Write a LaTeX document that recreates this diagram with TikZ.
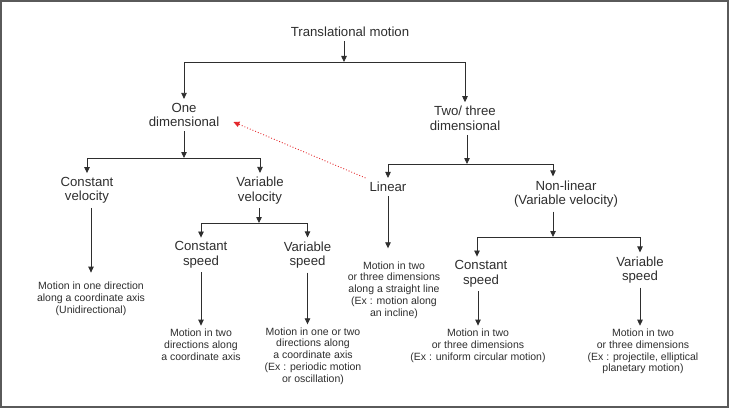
\documentclass[tikz,border=0pt]{standalone}
\usepackage{fontspec}
\setmainfont{Liberation Sans}
\usetikzlibrary{arrows.meta}

\definecolor{ink}{HTML}{2E2E2E}
\definecolor{framegray}{HTML}{5A5A5A}
\definecolor{hintred}{HTML}{E3262A}

\begin{document}
\begin{tikzpicture}[x=1pt,y=-1pt,
    lbl/.style={align=center,inner sep=4pt,text=ink,font=\fontsize{13.2}{14.5}\selectfont},
    note/.style={align=center,inner sep=3pt,text=ink,font=\fontsize{10.5}{11.8}\selectfont},
    arr/.style={draw=ink,line width=0.8pt,-{Triangle[width=5.5pt,length=6pt]}},
    hint/.style={draw=hintred,dotted,line width=0.9pt,-{Triangle[width=5.5pt,length=6pt]}}]
  \useasboundingbox (0,0) rectangle (730,409);
  \draw[framegray,line width=1.2pt] (1,1) rectangle (728,407);
  % headings
  \node[lbl] (top) at (350,32) {Translational motion};
  \node[lbl] (one) at (184,115) {One\\dimensional};
  \node[lbl] (two) at (465,118.5) {Two/ three\\dimensional};
  \node[lbl] (cvel) at (87,190.5) {Constant\\velocity};
  \node[lbl] (vvel) at (260,190.5) {Variable\\velocity};
  \node[lbl] (linear) at (388,187) {Linear};
  \node[lbl] (nonlin) at (566,194) {Non-linear\\(Variable velocity)};
  \node[lbl] (cspd1) at (201,255) {Constant\\speed};
  \node[lbl] (vspd1) at (307.5,255) {Variable\\speed};
  \node[lbl] (cspd2) at (481,274) {Constant\\speed};
  \node[lbl] (vspd2) at (640,270) {Variable\\speed};
  % text
  \node[note] (n1) at (91,298.5) {Motion in one direction\\along a coordinate axis\\(Unidirectional)};
  \node[note] (n2) at (201,344.5) {Motion in two\\directions along\\a coordinate axis};
  \node[note] (n3) at (313,356) {Motion in one or two\\directions along\\a coordinate axis\\(Ex : periodic motion\\or oscillation)};
  \node[note] (n4) at (394,290) {Motion in two\\or three dimensions\\along a straight line\\(Ex : motion along\\an incline)};
  \node[note] (n5) at (478,345.5) {Motion in two\\or three dimensions\\(Ex : uniform circular motion)};
  \node[note] (n6) at (643,351.5) {Motion in two\\or three dimensions\\(Ex : projectile, elliptical\\planetary motion)};
  % bus points
  \coordinate (b0) at (344,62);
  \coordinate (b1) at (184,158);
  \coordinate (b2) at (467,164);
  \coordinate (b3) at (553,237);
  \coordinate (b4) at (259,223);
  % arrows
  \draw[arr] (top.south -| b0) -- (b0);
  \draw[arr] (b0) -| (one.north);
  \draw[arr] (b0) -| (two.north);
  \draw[arr] (one.south) -- (b1);
  \draw[arr] (b1) -| (cvel.north);
  \draw[arr] (b1) -| (vvel.north);
  \draw[arr] (two.south -| b2) -- (b2);
  \draw[arr] (b2) -| (linear.north);
  \draw[arr] (b2) -| (nonlin.north -| b3);
  \draw[arr] (nonlin.south -| b3) -- (b3);
  \draw[arr] (b3) -| ([xshift=-4pt]cspd2.north);
  \draw[arr] (b3) -| (vspd2.north);
  \draw[arr] (vvel.south -| b4) -- (b4);
  \draw[arr] (b4) -| (cspd1.north);
  \draw[arr] (b4) -| (vspd1.north);
  \draw[arr,shorten >=6pt] (cvel.south -| n1.north) -- (n1.north);
  \draw[arr] (cspd1.south) -- (cspd1.south |- n2.north);
  \draw[arr] (vspd1.south) -- (vspd1.south |- n3.north);
  \draw[arr,shorten >=10pt] (linear.south) -- (linear.south |- n4.north);
  \draw[arr] (cspd2.south -| n5.north) -- (n5.north);
  \draw[arr] (vspd2.south) -- (vspd2.south |- n6.north);
  \draw[hint] (linear.north west) -- ([xshift=10pt,yshift=-7pt]one.east);
\end{tikzpicture}
\end{document}
